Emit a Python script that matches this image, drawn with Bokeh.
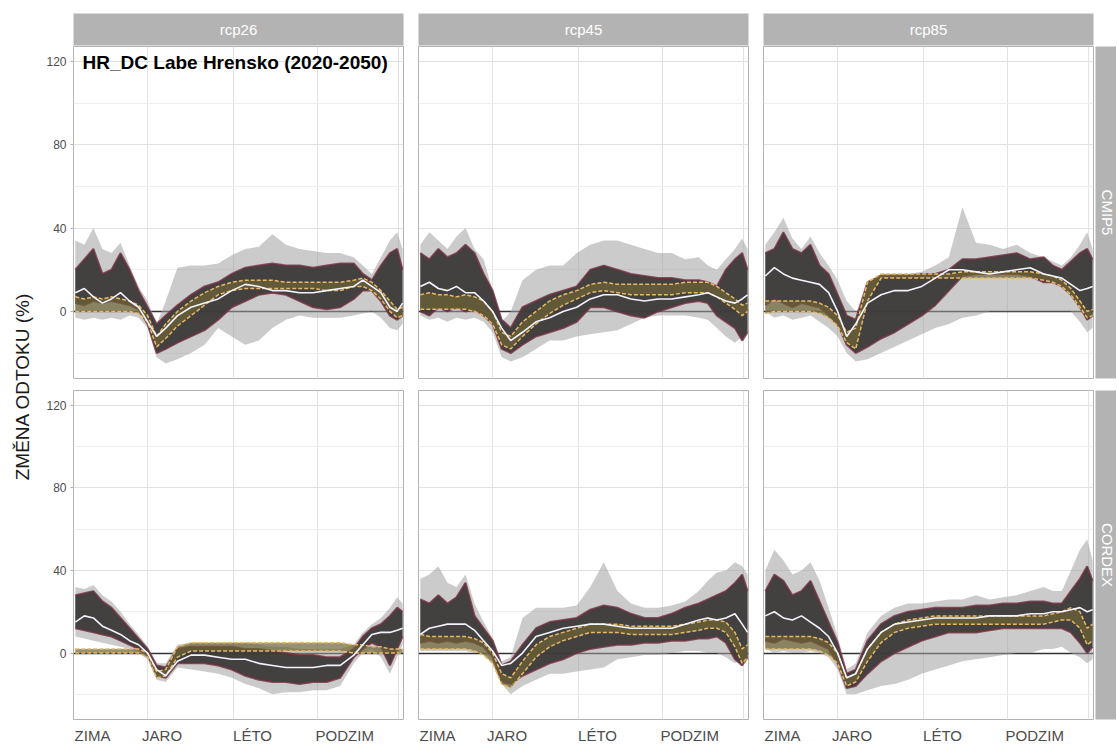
from math import pi
from bokeh.plotting import figure
from bokeh.layouts import row, column
from bokeh.models import FixedTicker, Label, Spacer, Range1d
from bokeh.embed import file_html
from bokeh.resources import INLINE

FONT = "Liberation Sans"

# ---------------- data ----------------
X = [2, 12, 22, 32, 42, 52, 62, 72, 82, 92, 102, 115, 130, 145, 160, 175, 190, 205,
     220, 235, 250, 265, 280, 295, 310, 320, 330, 340, 350, 358, 364]

COL_LABELS = ["rcp26", "rcp45", "rcp85"]
ROW_LABELS = ["CMIP5", "CORDEX"]
X_LABELS = ["ZIMA", "JARO", "LÉTO", "PODZIM"]
X_LABEL_POS = [21, 98, 198, 300]
X_GRID = [82, 177, 270, 359]
Y_TICKS = [0, 40, 80, 120]
Y_MINOR = [-20, 20, 60, 100]
TITLE = "HR_DC Labe Hrensko (2020-2050)"
Y_TITLE = "ZMĚNA ODTOKU (%)"

# rcp26 / CMIP5
A_gray_hi = [34, 32, 40, 30, 28, 33, 22, 12, 5, -6, 5, 21, 22, 22, 23, 27, 30, 31, 37, 32, 30, 29, 28, 28, 26, 22, 18, 26, 34, 38, 30]
A_gray_lo = [-3, -4, -3, -4, -3, -4, -2, -3, -8, -22, -25, -23, -20, -16, -8, -12, -16, -14, -8, -4, -2, -3, -3, -3, -2, -1, 0, -3, -8, -9, -6]
A_dark_hi = [20, 25, 30, 18, 20, 28, 20, 10, 2, -6, -2, 3, 8, 12, 14, 18, 21, 22, 23, 22, 22, 21, 22, 23, 23, 18, 15, 22, 28, 30, 20]
A_dark_lo = [4, 3, 5, 4, 5, 4, 3, 1, -6, -20, -18, -15, -12, -9, -4, 2, 5, 8, 9, 8, 5, 2, 1, 2, 6, 10, 10, 5, -2, -4, -2]
A_olive_hi = [7, 6, 7, 6, 7, 6, 5, 3, -2, -12, -6, 0, 5, 9, 12, 14, 15, 15, 15, 14, 14, 14, 14, 14, 15, 16, 14, 10, 5, 1, 2]
A_olive_lo = [0, 0, 0, 0, 0, 0, 0, -1, -5, -17, -13, -7, -2, 3, 8, 10, 11, 11, 11, 11, 11, 11, 10, 10, 12, 12, 10, 6, 0, -3, -2]
A_med = [9, 11, 7, 4, 6, 9, 5, 2, -5, -12, -8, -2, 2, 4, 6, 10, 13, 12, 10, 10, 9, 9, 10, 11, 12, 15, 12, 9, 2, 0, 4]

# rcp45 / CMIP5
B_gray_hi = [32, 38, 34, 30, 36, 40, 30, 25, 10, -5, 0, 15, 20, 22, 22, 28, 32, 34, 34, 32, 30, 28, 28, 25, 26, 22, 20, 25, 30, 35, 30]
B_gray_lo = [-2, -4, -3, -5, -3, -4, -3, -5, -10, -22, -24, -22, -18, -14, -14, -12, -11, -10, -9, -6, -3, -2, -2, -2, -3, -4, -8, -12, -15, -12, -10]
B_dark_hi = [28, 25, 30, 26, 28, 32, 28, 18, 10, -4, -8, 2, 5, 8, 10, 12, 20, 22, 20, 18, 17, 16, 16, 15, 15, 14, 12, 20, 25, 28, 20]
B_dark_lo = [0, -2, 2, 0, 2, 0, 1, -2, -6, -18, -20, -16, -12, -10, -8, -5, 2, 2, 0, -2, -3, 0, 2, 4, 5, 4, -2, -5, -8, -14, -10]
B_olive_hi = [8, 9, 8, 8, 7, 8, 7, 5, 0, -10, -12, -5, 0, 5, 8, 10, 13, 14, 13, 13, 13, 13, 13, 14, 14, 14, 12, 9, 6, 3, 4]
B_olive_lo = [1, 1, 1, 1, 1, 1, 0, -2, -6, -16, -18, -12, -6, -1, 3, 6, 9, 10, 9, 8, 8, 8, 8, 9, 9, 9, 7, 4, 1, -2, 0]
B_med = [12, 14, 11, 10, 12, 9, 9, 5, 0, -8, -14, -10, -5, -3, 0, 2, 6, 8, 8, 6, 5, 6, 6, 7, 8, 9, 7, 5, 4, 6, 8]

# rcp85 / CMIP5
C_gray_hi = [32, 38, 45, 35, 30, 36, 28, 22, 15, 5, 0, 6, 16, 18, 18, 19, 22, 26, 50, 33, 32, 30, 32, 28, 26, 24, 22, 26, 32, 38, 30]
C_gray_lo = [0, -3, -2, -4, -3, -2, -5, -8, -12, -20, -24, -23, -20, -17, -14, -11, -8, -6, -3, -2, 0, 0, 0, 0, 0, 0, 0, 0, -5, -10, -8]
C_dark_hi = [28, 30, 38, 30, 28, 32, 22, 18, 8, -2, -4, 14, 17, 17, 17, 18, 18, 20, 25, 25, 26, 27, 28, 25, 26, 22, 20, 24, 28, 30, 25]
C_dark_lo = [3, 6, 4, 2, 4, 3, 2, -2, -6, -16, -20, -17, -13, -10, -6, -2, 3, 10, 17, 18, 18, 18, 18, 17, 14, 14, 12, 8, 2, -4, -2]
C_olive_hi = [5, 5, 5, 5, 5, 5, 4, 2, -2, -10, -8, 14, 18, 18, 18, 18, 18, 18, 19, 19, 19, 19, 19, 19, 18, 17, 15, 11, 5, 0, 1]
C_olive_lo = [-1, 0, 0, 0, 0, 0, -1, -3, -7, -15, -18, 5, 16, 16, 16, 16, 16, 16, 16, 16, 16, 16, 16, 16, 15, 14, 12, 8, 2, -3, -2]
C_med = [17, 21, 18, 16, 15, 14, 13, 9, 0, -12, -6, 4, 8, 10, 10, 12, 16, 20, 20, 19, 18, 19, 20, 21, 18, 17, 16, 13, 10, 11, 12]

# rcp26 / CORDEX
D_gray_hi = [32, 31, 33, 28, 25, 20, 14, 9, 3, -5, -5, 4, 5, 5, 5, 5, 5, 4, 3, 3, 2, 2, 2, 2, 4, 10, 14, 17, 22, 27, 24]
D_gray_lo = [8, 7, 6, 5, 4, 3, 2, 0, -3, -13, -14, -7, -8, -9, -10, -12, -15, -17, -20, -19, -19, -18, -18, -16, -5, 0, 2, -2, -10, -2, 4]
D_dark_hi = [28, 29, 30, 25, 22, 17, 12, 7, 2, -6, -7, 2, 3, 3, 3, 3, 2, 2, 1, 0, -1, -1, -2, -2, 2, 8, 12, 14, 18, 22, 20]
D_dark_lo = [12, 11, 10, 9, 8, 6, 4, 2, -1, -11, -12, -5, -5, -5, -6, -8, -11, -13, -14, -14, -15, -14, -14, -12, -2, 2, 5, 3, -6, 2, 8]
D_olive_hi = [2, 2, 2, 2, 2, 2, 2, 2, 0, -9, -8, 3, 5, 5, 5, 5, 5, 5, 5, 5, 5, 5, 5, 5, 4, 4, 3, 3, 2, 2, 2]
D_olive_lo = [0, 0, 0, 0, 0, 0, 0, 0, -2, -12, -11, -2, 1, 1, 1, 1, 1, 1, 1, 1, 1, 1, 1, 1, 0, 0, 0, 0, 0, 0, 0]
D_med = [15, 18, 17, 13, 11, 9, 6, 4, 0, -8, -11, -4, -1, -1, -2, -3, -3, -5, -6, -7, -7, -7, -6, -6, -1, 4, 9, 10, 10, 11, 12]

# rcp45 / CORDEX
E_gray_hi = [36, 38, 42, 34, 32, 38, 24, 15, 7, -4, -2, 17, 22, 22, 22, 23, 32, 44, 30, 24, 22, 22, 23, 25, 30, 35, 39, 40, 44, 42, 38]
E_gray_lo = [1, 1, 1, 1, 1, 1, 0, 0, -4, -15, -20, -16, -13, -10, -10, -9, -8, -7, -3, -2, -1, -1, 0, 1, 1, 0, 0, -2, -5, -3, -1]
E_dark_hi = [26, 24, 28, 24, 27, 34, 18, 12, 6, -6, -4, 4, 12, 15, 16, 17, 21, 23, 22, 19, 17, 17, 19, 22, 24, 26, 28, 30, 34, 38, 30]
E_dark_lo = [5, 6, 5, 6, 5, 6, 5, 3, -2, -14, -15, -11, -8, -5, -3, 0, 2, 3, 4, 4, 5, 5, 6, 6, 7, 7, 8, 5, -3, -6, -2]
E_olive_hi = [9, 8, 8, 8, 8, 8, 7, 5, 0, -10, -12, -4, 4, 8, 10, 12, 14, 14, 14, 13, 13, 13, 13, 14, 15, 16, 16, 15, 10, 2, 4]
E_olive_lo = [2, 2, 2, 2, 2, 2, 1, -1, -5, -15, -17, -10, -2, 3, 6, 8, 10, 10, 10, 9, 9, 9, 9, 10, 11, 12, 12, 10, 3, -5, -2]
E_med = [9, 12, 13, 14, 14, 14, 11, 6, 1, -6, -5, 0, 8, 10, 12, 13, 14, 14, 13, 12, 12, 12, 12, 14, 16, 17, 16, 17, 19, 14, 10]

# rcp85 / CORDEX
F_gray_hi = [40, 50, 45, 38, 40, 44, 35, 22, 8, -8, -5, 10, 18, 22, 24, 24, 25, 26, 26, 28, 26, 27, 28, 30, 32, 30, 30, 40, 50, 55, 45]
F_gray_lo = [2, 0, 1, 0, 0, 1, 0, -2, -8, -20, -20, -18, -16, -15, -13, -10, -8, -6, -4, -3, -2, -1, 0, 0, 2, 2, 3, 0, -2, -5, -3]
F_dark_hi = [30, 38, 35, 28, 30, 35, 25, 15, 5, -10, -8, 6, 14, 18, 20, 21, 22, 22, 22, 23, 23, 24, 24, 25, 25, 24, 24, 30, 36, 42, 35]
F_dark_lo = [6, 5, 7, 6, 5, 6, 4, 2, -5, -17, -16, -10, -4, 0, 3, 6, 8, 10, 10, 10, 11, 12, 12, 12, 12, 12, 12, 10, 5, 0, 3]
F_olive_hi = [8, 8, 8, 8, 8, 8, 7, 5, 0, -12, -10, 2, 10, 14, 16, 17, 18, 18, 18, 18, 18, 18, 18, 18, 18, 19, 20, 22, 20, 12, 14]
F_olive_lo = [2, 2, 2, 2, 2, 2, 1, -1, -5, -16, -14, -4, 5, 10, 12, 13, 14, 14, 14, 14, 14, 14, 14, 14, 14, 15, 16, 16, 12, 4, 6]
F_med = [18, 20, 17, 16, 18, 15, 12, 8, 0, -12, -10, 2, 10, 14, 15, 16, 17, 17, 17, 17, 18, 18, 18, 19, 19, 20, 20, 21, 22, 20, 21]

PANELS = [
    [(A_gray_hi, A_gray_lo, A_dark_hi, A_dark_lo, A_olive_hi, A_olive_lo, A_med),
     (B_gray_hi, B_gray_lo, B_dark_hi, B_dark_lo, B_olive_hi, B_olive_lo, B_med),
     (C_gray_hi, C_gray_lo, C_dark_hi, C_dark_lo, C_olive_hi, C_olive_lo, C_med)],
    [(D_gray_hi, D_gray_lo, D_dark_hi, D_dark_lo, D_olive_hi, D_olive_lo, D_med),
     (E_gray_hi, E_gray_lo, E_dark_hi, E_dark_lo, E_olive_hi, E_olive_lo, E_med),
     (F_gray_hi, F_gray_lo, F_dark_hi, F_dark_lo, F_olive_hi, F_olive_lo, F_med)],
]

# ---------------- styling / layout ----------------
FRAME_W, FRAME_H = 330, 332
Y_RANGE = (-32.2, 127.2)
X_RANGE = (0, 365)
LEFT_W = 38
STRIP_TOP, STRIP_H = 13, 32
ROW1_BOTTOM, ROW2_BOTTOM = 12, 24
RSTRIP_W = 21
BORDER = "#b3b3b3"
GRID = "#e2e2e2"


def borders(ci):
    ml = 35 if ci == 0 else 0
    mr = 15 if ci < 2 else 2
    return ml, mr


def make_panel(ri, ci, series):
    ml, mr = borders(ci)
    mb = ROW1_BOTTOM if ri == 0 else ROW2_BOTTOM
    p = figure(width=ml + FRAME_W + mr, height=FRAME_H + mb,
               x_range=Range1d(*X_RANGE), y_range=Range1d(*Y_RANGE),
               min_border_left=ml, min_border_right=mr, min_border_top=0, min_border_bottom=mb,
               x_axis_location="below" if ri == 1 else None,
               y_axis_location="left" if ci == 0 else None,
               output_backend="svg", toolbar_location=None, tools="")
    p.background_fill_color = "white"
    p.border_fill_color = "white"
    p.outline_line_color = BORDER
    p.outline_line_width = 1
    p.xgrid.ticker = FixedTicker(ticks=X_GRID)
    p.ygrid.ticker = FixedTicker(ticks=Y_TICKS, minor_ticks=Y_MINOR)
    p.xgrid.grid_line_color = GRID
    p.ygrid.grid_line_color = GRID
    p.ygrid.minor_grid_line_color = "#eeeeee"
    p.xgrid.grid_line_width = 1
    p.ygrid.grid_line_width = 1

    if ci == 0:
        ax = p.yaxis[0]
        ax.ticker = FixedTicker(ticks=Y_TICKS)
        ax.axis_line_color = None
        ax.major_tick_line_color = BORDER
        ax.major_tick_out = 3
        ax.major_tick_in = 0
        ax.minor_tick_line_color = None
        ax.major_label_text_font = FONT
        ax.major_label_text_font_size = "12px"
        ax.major_label_text_color = "#4d4d4d"
        ax.major_label_standoff = 4
    if ri == 1:
        ax = p.xaxis[0]
        ax.ticker = FixedTicker(ticks=X_LABEL_POS)
        ax.major_label_overrides = {b: l for b, l in zip(X_LABEL_POS, X_LABELS)}
        ax.axis_line_color = None
        ax.major_tick_line_color = None
        ax.major_tick_out = 0
        ax.major_tick_in = 0
        ax.minor_tick_line_color = None
        ax.major_label_text_font = FONT
        ax.major_label_text_font_size = "15px"
        ax.major_label_text_color = "#4d4d4d"
        ax.major_label_standoff = 7

    gh, gl, dh, dl, oh, ol, md = series
    p.hspan(y=[0], line_color="#333333", line_width=1.6)
    p.varea(x=X, y1=gl, y2=gh, fill_color="#a0a0a0", fill_alpha=0.55)
    p.varea(x=X, y1=dl, y2=dh, fill_color="#3b3838", fill_alpha=0.95)
    p.line(X, dh, line_color="#6e2f3f", line_width=2, line_alpha=0.8)
    p.line(X, dl, line_color="#6e2f3f", line_width=2, line_alpha=0.8)
    p.varea(x=X, y1=ol, y2=oh, fill_color="#6e6433", fill_alpha=0.7)
    p.line(X, oh, line_color="#e6b86a", line_width=1.5, line_dash="4 2")
    p.line(X, ol, line_color="#e6b86a", line_width=1.5, line_dash="4 2")
    p.line(X, md, line_color="#f4f4ff", line_width=1.6)

    if ri == 0 and ci == 0:
        p.add_layout(Label(x=10, y=119.5, text=TITLE, text_font=FONT, text_font_size="19px",
                           text_font_style="bold", text_color="black", text_baseline="middle"))
    return p


def make_top_strip(ci):
    ml, mr = borders(ci)
    s = figure(width=ml + FRAME_W + mr, height=STRIP_TOP + STRIP_H + 1,
               x_range=Range1d(0, 1), y_range=Range1d(0, 1),
               min_border_left=ml, min_border_right=mr, min_border_top=STRIP_TOP, min_border_bottom=1,
               x_axis_location=None, y_axis_location=None,
               output_backend="svg", toolbar_location=None, tools="")
    s.grid.visible = False
    s.background_fill_color = BORDER
    s.border_fill_color = "white"
    s.outline_line_color = None
    s.add_layout(Label(x=0.5, y=0.5, text=COL_LABELS[ci], text_align="center", text_baseline="middle",
                       text_color="white", text_font=FONT, text_font_size="15px"))
    return s


def make_right_strip(ri):
    mb = ROW1_BOTTOM if ri == 0 else ROW2_BOTTOM
    s = figure(width=RSTRIP_W, height=FRAME_H + mb, x_range=Range1d(0, 1), y_range=Range1d(0, 1),
               min_border_left=0, min_border_right=0, min_border_top=0, min_border_bottom=mb,
               x_axis_location=None, y_axis_location=None,
               output_backend="svg", toolbar_location=None, tools="")
    s.grid.visible = False
    s.background_fill_color = BORDER
    s.border_fill_color = "white"
    s.outline_line_color = None
    s.add_layout(Label(x=0.55, y=0.5, text=ROW_LABELS[ri], text_align="center", text_baseline="middle",
                       angle=-pi / 2, text_color="white", text_font=FONT, text_font_size="15px"))
    return s


total_h = (STRIP_TOP + STRIP_H + 1) + (FRAME_H + ROW1_BOTTOM) + (FRAME_H + ROW2_BOTTOM)
lab = figure(width=LEFT_W, height=total_h, x_range=Range1d(0, LEFT_W), y_range=Range1d(0, total_h),
             min_border_left=0, min_border_right=0, min_border_top=0, min_border_bottom=0,
             x_axis_location=None, y_axis_location=None,
             output_backend="svg", toolbar_location=None, tools="")
lab.grid.visible = False
lab.outline_line_color = None
lab.add_layout(Label(x=22, y=total_h - 386, text=Y_TITLE, angle=pi / 2, text_align="center",
                     text_baseline="middle", text_font=FONT, text_font_size="19px", text_color="#1a1a1a"))

strip_row = row([make_top_strip(c) for c in range(3)] + [Spacer(width=RSTRIP_W, height=STRIP_TOP + STRIP_H + 1)])
row1 = row([make_panel(0, c, PANELS[0][c]) for c in range(3)] + [make_right_strip(0)])
row2 = row([make_panel(1, c, PANELS[1][c]) for c in range(3)] + [make_right_strip(1)])

layout = row(lab, column(strip_row, row1, row2))

open("out.html", "w").write(file_html(layout, INLINE))
